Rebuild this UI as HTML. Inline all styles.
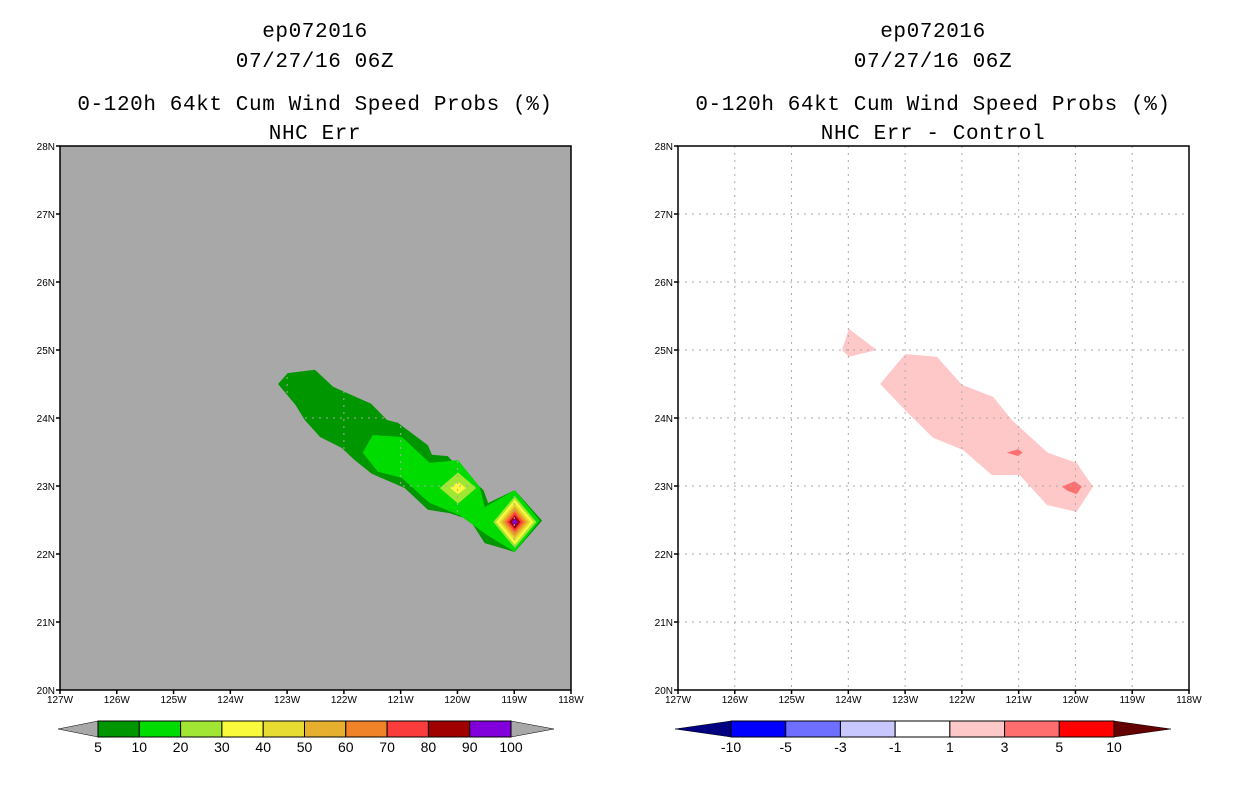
<!DOCTYPE html>
<html><head><meta charset="utf-8"><style>
body{margin:0;background:#fff;width:1236px;height:800px;overflow:hidden}
svg{display:block}
text{font-family:"Liberation Sans",sans-serif}
.ttl{font-family:"Liberation Mono",monospace;letter-spacing:0.6px}
</style></head><body>
<svg id="s" width="1236" height="800"></svg>
<script>
const lonTicks=[-127,-126,-125,-124,-123,-122,-121,-120,-119,-118];
const lonLabels=["127W","126W","125W","124W","123W","122W","121W","120W","119W","118W"];
const latTicks=[20,21,22,23,24,25,26,27,28];
const latLabels=["20N","21N","22N","23N","24N","25N","26N","27N","28N"];
// left panel contours [lon,lat]
const prob5=[[-123.16,24.5],[-122.99,24.66],[-122.51,24.71],[-122.19,24.46],[-121.95,24.37],[-121.52,24.21],[-121.24,23.97],[-121.05,23.93],[-120.52,23.6],[-120.45,23.46],[-120.17,23.44],[-119.96,23.25],[-119.54,22.94],[-119.46,22.75],[-118.99,22.94],[-118.51,22.49],[-118.99,22.03],[-119.52,22.16],[-119.78,22.5],[-120.13,22.6],[-120.52,22.65],[-120.93,22.97],[-121.51,23.18],[-121.81,23.38],[-122.04,23.56],[-122.42,23.72],[-122.69,23.97],[-122.85,24.19]];
const prob10=[[-121.67,23.49],[-121.49,23.75],[-120.98,23.72],[-120.49,23.34],[-119.99,23.38],[-119.61,22.99],[-119.52,22.69],[-118.99,22.94],[-118.55,22.49],[-118.99,22.03],[-119.48,22.28],[-119.96,22.57],[-120.49,22.75],[-120.98,23.12],[-121.4,23.21]];
const peak1=[-119.99,22.97]; const peak1Rx=[0.32,0.14]; const peak1Ry=[0.23,0.09]; const peak1Colors=["#a0e632","#fafa3c"];
const peak2=[-118.99,22.47]; const peak2Radii=[0.38,0.33,0.28,0.235,0.19,0.145,0.1,0.05];
const peak2Colors=["#a0e632","#fafa3c","#e6dc32","#e6af2d","#f08228","#fa3c3c","#a00000","#8200dc"];
// right panel difference contours
const diffA=[[-123.99,25.31],[-123.5,25.0],[-123.99,24.9],[-124.11,25.0]];
const diffB=[[-123.0,24.94],[-122.44,24.9],[-122.0,24.49],[-121.45,24.31],[-121.12,23.97],[-120.49,23.49],[-119.98,23.34],[-119.69,22.99],[-119.98,22.62],[-120.5,22.72],[-120.98,23.16],[-121.47,23.16],[-121.98,23.53],[-122.51,23.71],[-122.97,24.09],[-123.44,24.5]];
const diffC=[[-121.21,23.49],[-121.01,23.54],[-120.93,23.49],[-121.01,23.44]];
const diffD=[[-120.24,22.99],[-120.01,23.07],[-119.89,22.99],[-119.98,22.88],[-120.14,22.93]];
const cbLeftLabels=["5","10","20","30","40","50","60","70","80","90","100"];
const cbLeftColors=["#009600","#00dc00","#a0e632","#fafa3c","#e6dc32","#e6af2d","#f08228","#fa3c3c","#a00000","#8200dc"];
const cbRightLabels=["-10","-5","-3","-1","1","3","5","10"];
const cbRightColors=["#0000ff","#6e6eff","#c8c8ff","#ffffff","#ffc8c8","#ff6e6e","#ff0000"];

const S=document.getElementById('s');const NS='http://www.w3.org/2000/svg';
function mk(t,a,p){const e=document.createElementNS(NS,t);for(const k in a)e.setAttribute(k,a[k]);(p||S).appendChild(e);return e;}
const Y0=146,Y1=690;
function yS(lat){return Y0+(28-lat)*(Y1-Y0)/8;}
function mkX(x0){return lon=>x0+(lon+127)*(511/9);}
function poly(pts,xs,fill,name){const e=mk('polygon',{points:pts.map(p=>xs(p[0])+','+yS(p[1])).join(' '),fill:fill});

return e;}
function diamond(c,rx,ry,xs,fill,name){return poly([[c[0]-rx,c[1]],[c[0],c[1]+ry],[c[0]+rx,c[1]],[c[0],c[1]-ry]],xs,fill,name);}
function txt(x,y,s,size,anchor,name,cls){const e=mk('text',{x:x,y:y,'font-size':size,'text-anchor':anchor||'middle',fill:'#000'});e.textContent=s;
if(cls)e.setAttribute('class',cls);

return e;}
function panel(x0,bg,titles,pfx){
 const r=mk('rect',{x:x0,y:Y0,width:511,height:Y1-Y0,fill:bg});
 
 
 const cx=x0+255;
 txt(cx,37,titles[0],21,'middle',pfx+'-storm-id','ttl');
 txt(cx,67,titles[1],21,'middle',pfx+'-date','ttl');
 txt(cx,110,titles[2],21,'middle',pfx+'-title','ttl');
 txt(cx,139,titles[3],21,'middle',pfx+'-subtitle','ttl');
 return mkX(x0);
}
function frame(x0,gridCol,pfx){
 const xs=mkX(x0);
 lonTicks.forEach((l,i)=>{const x=xs(l);
  if(i>0&&i<lonTicks.length-1){const g=mk('line',{x1:x,y1:Y0,x2:x,y2:Y1,stroke:gridCol,'stroke-dasharray':'2,5','stroke-width':1});
  
  }
  mk('line',{x1:x,y1:Y1,x2:x,y2:Y1+4,stroke:'#000','stroke-width':1.5});
  txt(x,Y1+13,lonLabels[i],10,'middle',pfx+'-x-tick-label');});
 latTicks.forEach((l,i)=>{const y=yS(l);
  if(i>0&&i<latTicks.length-1){const g=mk('line',{x1:x0,y1:y,x2:x0+511,y2:y,stroke:gridCol,'stroke-dasharray':'2,5','stroke-width':1});
  
  }
  mk('line',{x1:x0-4,y1:y,x2:x0,y2:y,stroke:'#000','stroke-width':1.5});
  txt(x0-5,y+4,latLabels[i],10,'end',pfx+'-y-tick-label');});
 const f=mk('rect',{x:x0,y:Y0,width:511,height:Y1-Y0,fill:'none',stroke:'#000','stroke-width':1.5});
 
 
}
// left
let xs=panel(60,'#a8a8a8',["ep072016","07/27/16 06Z","0-120h 64kt Cum Wind Speed Probs (%)","NHC Err"],'left');
poly(prob5,xs,'#009600','contour-5');
poly(prob10,xs,'#00dc00','contour-10');
peak1Rx.forEach((r,i)=>diamond(peak1,r,peak1Ry[i],xs,peak1Colors[i],'peak-a-level'));
peak2Radii.forEach((r,i)=>diamond(peak2,r,r,xs,peak2Colors[i],'peak-b-level'));
frame(60,'#a9a9a9','left');
// right
xs=panel(678,'#ffffff',["ep072016","07/27/16 06Z","0-120h 64kt Cum Wind Speed Probs (%)","NHC Err - Control"],'right');
poly(diffA,xs,'#ffc8c8','diff-1-3-a');
poly(diffB,xs,'#ffc8c8','diff-1-3-b');
poly(diffC,xs,'#ff6e6e','diff-3-5-a');
poly(diffD,xs,'#ff6e6e','diff-3-5-b');
frame(678,'#aaa','right');
// colorbars
function cbar(x0,x1,colors,labels,triL,triR,pfx,first,last){
 const y0=721,y1=737,w=(x1-x0)/colors.length;
 let t=mk('polygon',{points:`${first},${(y0+y1)/2} ${x0},${y0} ${x0},${y1}`,fill:triL,stroke:'#000','stroke-width':0.5});
 
 
 t=mk('polygon',{points:`${last},${(y0+y1)/2} ${x1},${y0} ${x1},${y1}`,fill:triR,stroke:'#000','stroke-width':0.5});
 
 
 colors.forEach((c,i)=>{const r=mk('rect',{x:x0+i*w,y:y0,width:w,height:y1-y0,fill:c,stroke:'#000','stroke-width':1});
  
  });
 labels.forEach((l,i)=>txt(x0+i*w,y1+15,l,14,'middle',pfx+'-colorbar-label'));
}
cbar(98,511,cbLeftColors,cbLeftLabels,'#a8a8a8','#a8a8a8','left',58,554);
cbar(731,1114,cbRightColors,cbRightLabels,'#000080','#640000','right',675,1171);
</script>
</body></html>
